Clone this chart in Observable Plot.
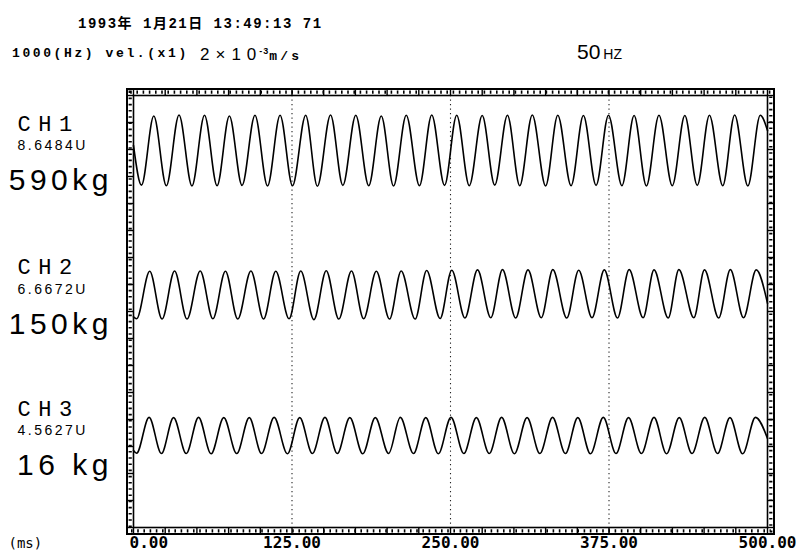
<!DOCTYPE html>
<html><head><meta charset="utf-8">
<script src="https://cdn.jsdelivr.net/npm/d3@7"></script>
<script src="https://cdn.jsdelivr.net/npm/@observablehq/plot@0.6"></script>
<style>
body{margin:0;background:#fff;}
#wrap{position:relative;width:800px;height:556px;overflow:hidden;}
#wrap svg{position:absolute;left:0;top:0;}
.h{position:absolute;white-space:nowrap;color:#000;line-height:1;}
</style></head><body>
<div id="wrap">
<div class="h" style="left:78px;top:12px;font:bold 14px 'Liberation Mono','Noto Sans CJK JP';letter-spacing:1.5px;">1993年 1月21日 13:49:13 71</div>
<div class="h" style="left:12px;top:46px;font:bold 13px 'Liberation Mono';letter-spacing:2.6px;">1000(Hz) vel.(x1)</div>
<div class="h" style="left:200px;top:45px;font:17px 'Liberation Sans';"><span style="letter-spacing:6px;">2×1</span>0<span style="font:bold 9px 'Liberation Sans';letter-spacing:1px;vertical-align:6px;margin-left:3px;">-3</span><span style="font:bold 13px 'Liberation Mono';letter-spacing:3.2px;">m/s</span></div>
<div class="h" style="left:577px;top:40px;"><span style="font:500 21px 'Liberation Sans';">50</span><span style="font:500 14px 'Liberation Sans';margin-left:3px;">HZ</span></div>
</div>
<script>
// ---- labels ----
const channels = ["CH1", "CH2", "CH3"];
const voltages = ["8.6484U", "6.6672U", "4.5627U"];
const loads = ["590kg", "150kg", "16 kg"];
const xTicks = [0, 125, 250, 375, 500];
const xTickLabels = ["0.00", "125.00", "250.00", "375.00", "500.00"];
const xUnit = "(ms)";

// ---- CH1 waveform extremes (time in ms, level in screen divisions) ----
const ch1PeakMs = [16.0, 35.9, 56.0, 75.6, 95.8, 115.6, 135.8, 155.4, 175.3, 195.4, 215.1, 235.2, 254.9, 275.0, 294.9, 314.5, 334.6, 354.8, 374.6, 394.8, 414.4, 434.8, 454.2, 474.1, 494.3];
const ch1PeakV = [15.24, 15.28, 15.27, 15.24, 15.27, 15.27, 15.27, 15.28, 15.27, 15.24, 15.27, 15.28, 15.27, 15.26, 15.27, 15.28, 15.27, 15.26, 15.27, 15.26, 15.27, 15.26, 15.27, 15.28, 15.27];
const ch1TroughMs = [6.3, 25.9, 46.1, 65.9, 85.6, 105.7, 125.4, 145.0, 165.1, 185.5, 205.1, 225.5, 245.3, 264.8, 284.9, 304.6, 325.0, 345.1, 364.8, 385.2, 404.5, 424.9, 444.6, 464.7, 484.5];
const ch1TroughV = [12.68, 12.66, 12.65, 12.66, 12.67, 12.65, 12.66, 12.64, 12.67, 12.66, 12.65, 12.66, 12.67, 12.66, 12.68, 12.66, 12.65, 12.66, 12.67, 12.66, 12.65, 12.66, 12.67, 12.66, 12.65];
const ch1Ends = [14.15, 14.7];

// ---- CH2 ----
const ch2PeakMs = [12.8, 32.4, 52.6, 72.5, 92.6, 112.2, 131.9, 152.0, 171.9, 191.5, 211.1, 231.2, 251.0, 271.3, 291.0, 311.1, 330.7, 351.1, 371.3, 390.9, 410.5, 430.1, 450.3, 470.7, 491.1];
const ch2PeakV = [9.49, 9.50, 9.50, 9.49, 9.50, 9.49, 9.50, 9.51, 9.50, 9.49, 9.50, 9.52, 9.53, 9.54, 9.55, 9.54, 9.55, 9.53, 9.54, 9.55, 9.54, 9.55, 9.54, 9.55, 9.54];
const ch2TroughMs = [2.4, 22.5, 42.2, 62.6, 82.2, 102.6, 122.7, 142.3, 161.9, 181.5, 201.9, 222.1, 241.8, 261.4, 281.8, 301.4, 321.6, 341.7, 361.6, 381.7, 401.9, 421.7, 441.9, 461.5, 481.1];
const ch2TroughV = [7.73, 7.72, 7.72, 7.73, 7.72, 7.72, 7.73, 7.70, 7.72, 7.73, 7.72, 7.72, 7.74, 7.76, 7.77, 7.76, 7.77, 7.76, 7.77, 7.76, 7.77, 7.76, 7.77, 7.76, 7.77];
const ch2Ends = [7.80, 8.30];

// ---- CH3 ----
const ch3PeakMs = [12.3, 31.6, 51.3, 71.2, 91.3, 110.9, 131.1, 151.0, 170.6, 190.7, 210.4, 230.5, 250.4, 270.4, 290.3, 310.4, 330.5, 350.4, 370.5, 390.4, 410.5, 430.4, 450.5, 470.4, 490.5];
const ch3PeakV = [4.08, 4.07, 4.08, 4.07, 4.07, 4.08, 4.07, 4.08, 4.07, 4.07, 4.08, 4.07, 4.08, 4.07, 4.08, 4.07, 4.08, 4.07, 4.08, 4.07, 4.08, 4.07, 4.08, 4.07, 4.08];
const ch3TroughMs = [2.4, 22.0, 41.6, 61.2, 81.4, 101.0, 121.4, 141.1, 160.7, 180.8, 201.2, 220.8, 240.4, 260.5, 280.6, 300.4, 320.5, 340.6, 360.4, 380.5, 400.6, 420.4, 440.5, 460.6, 480.4];
const ch3TroughV = [2.75, 2.74, 2.74, 2.73, 2.74, 2.74, 2.73, 2.74, 2.74, 2.73, 2.74, 2.74, 2.73, 2.74, 2.74, 2.73, 2.74, 2.74, 2.73, 2.74, 2.74, 2.73, 2.74, 2.74, 2.73];
const ch3Ends = [2.85, 3.30];

// ---- build table ----
function build(ch, pMs, pV, tMs, tV, ends) {
  const rows = [{ch, t: 0, v: ends[0]}];
  pMs.forEach((t, i) => rows.push({ch, t, v: pV[i]}));
  tMs.forEach((t, i) => rows.push({ch, t, v: tV[i]}));
  rows.push({ch, t: 500, v: ends[1]});
  return rows.sort((a, b) => a.t - b.t);
}
const wave = [
  ...build("CH1", ch1PeakMs, ch1PeakV, ch1TroughMs, ch1TroughV, ch1Ends),
  ...build("CH2", ch2PeakMs, ch2PeakV, ch2TroughMs, ch2TroughV, ch2Ends),
  ...build("CH3", ch3PeakMs, ch3PeakV, ch3TroughMs, ch3TroughV, ch3Ends)
];
const peaksAll = [ch1PeakV, ch2PeakV, ch3PeakV];
const troughsAll = [ch1TroughV, ch2TroughV, ch3TroughV];
const labelRows = channels.map((ch, i) => ({
  ch, volt: voltages[i], load: loads[i],
  center: (d3.mean(peaksAll[i]) + d3.mean(troughsAll[i])) / 2
}));
const tickRows = xTicks.map((x, i) => ({x, label: xTickLabels[i]}));

const majorX = d3.range(0, 501, 25);
const majorY = d3.range(0, 17, 1);

const mono = "'DejaVu Sans Mono', monospace";
const chart = Plot.plot({
  width: 800, height: 556,
  marginLeft: 133, marginRight: 33, marginTop: 95, marginBottom: 29,
  x: {domain: [0, 500], axis: null},
  y: {domain: [0, 16], axis: null},
  style: {background: "transparent", color: "black"},
  marks: [
    Plot.ruleX([125, 250, 375], {stroke: "#222", strokeWidth: 1.1, strokeDasharray: "1.3,3.2"}),
    Plot.line(wave, {x: "t", y: "v", z: "ch", curve: "monotone-x", stroke: "black", strokeWidth: 1.6}),
    // ruler-like frame
    Plot.frame({strokeWidth: 1.6}),
    Plot.frame({inset: -6.5, strokeWidth: 2}),
    Plot.frame({inset: -3.3, strokeWidth: 3.2, strokeDasharray: "1.6,4.6"}),
    Plot.ruleX(majorX, {y1: 16, y2: 16.24, strokeWidth: 1.4}),
    Plot.ruleX(majorX, {y1: 0, y2: -0.24, strokeWidth: 1.4}),
    Plot.ruleY(majorY, {x1: 0, x2: -5.1, strokeWidth: 1.4}),
    Plot.ruleY(majorY, {x1: 500, x2: 505.1, strokeWidth: 1.4}),
    // channel labels
    Plot.text(labelRows, {y: "center", text: "ch", frameAnchor: "left", textAnchor: "start", dx: -116, dy: -27,
      fontFamily: "'Liberation Mono', monospace", fontSize: 22, fontWeight: 300}),
    Plot.text(labelRows, {y: "center", text: "volt", frameAnchor: "left", textAnchor: "start", dx: -116, dy: -5,
      fontFamily: "'Liberation Sans', sans-serif", fontSize: 14}),
    Plot.text(labelRows, {y: "center", text: "load", frameAnchor: "left", textAnchor: "end", dx: -20.5, dy: 30,
      fontFamily: "'Liberation Sans', sans-serif", fontSize: 30}),
    // x tick labels
    Plot.text(tickRows.slice(0, 1), {x: "x", text: "label", frameAnchor: "bottom", textAnchor: "start", dx: -4, dy: 20,
      fontFamily: mono, fontSize: 16, fontWeight: "bold"}),
    Plot.text(tickRows.slice(1), {x: "x", text: "label", frameAnchor: "bottom", dy: 20,
      fontFamily: mono, fontSize: 16, fontWeight: "bold"}),
    Plot.text([xUnit], {frameAnchor: "bottom-left", textAnchor: "start", dx: -125, dy: 20,
      fontFamily: mono, fontSize: 14})
  ]
});
// letter spacing (not a Plot text option): apply by content
const spacing = new Map();
channels.forEach(s => spacing.set(s, 7.5));
voltages.forEach(s => spacing.set(s, 2.5));
loads.forEach(s => spacing.set(s, 4.5));
d3.select(chart).selectAll("text").each(function () {
  const s = spacing.get(this.textContent);
  if (s != null) { this.setAttribute("letter-spacing", s); this.style.letterSpacing = s + "px"; }
});
document.getElementById("wrap").prepend(chart);
</script>
</body></html>
